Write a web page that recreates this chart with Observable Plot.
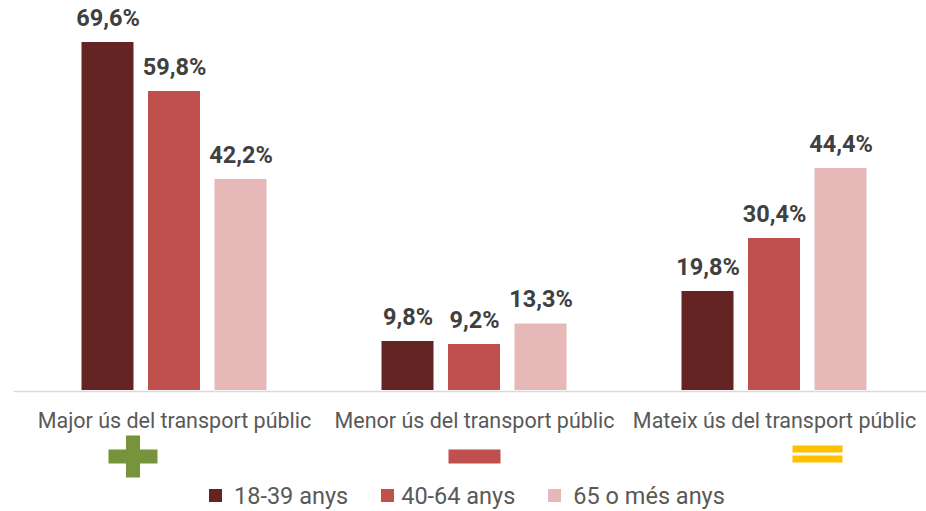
<!DOCTYPE html>
<html>
<head>
<meta charset="utf-8">
<script src="https://cdn.jsdelivr.net/npm/d3@7"></script>
<script src="https://cdn.jsdelivr.net/npm/@observablehq/plot@0.6"></script>
<style>
  html, body { margin: 0; padding: 0; background: #fff; }
  #chart { width: 926px; }
  .legend { display: flex; justify-content: flex-start; align-items: center; height: 31px;
    font-family: Roboto, sans-serif; font-size: 23.5px; color: #595959; padding-left: 209px; box-sizing: border-box; width: 926px; }
  .legend .item { display: flex; align-items: center; margin-right: 33px; }
  .legend .sw { width: 13px; height: 13px; margin-right: 12px; display: inline-block; }
</style>
</head>
<body>
<div id="chart"></div>
<script>
// ---- data ----
const categories = ["Major ús del transport públic", "Menor ús del transport públic", "Mateix ús del transport públic"];
const seriesNames = ["18-39 anys", "40-64 anys", "65 o més anys"];
const values18_39 = [69.6, 9.8, 19.8];
const values40_64 = [59.8, 9.2, 30.4];
const values65 = [42.2, 13.3, 44.4];
const seriesColors = ["#632423", "#c0504d", "#e6b9b8"];
const iconNames = ["plus", "minus", "equals"];
const iconColors = ["#77933c", "#c0504d", "#ffc000"];

const seriesValues = [values18_39, values40_64, values65];
const table = [];
seriesNames.forEach((s, k) => categories.forEach((c, i) => table.push({category: c, series: s, k, value: seriesValues[k][i]})));

const fmt = v => v.toFixed(1).replace(".", ",") + "%";

// custom symbols for the category icons
const symbols = {
  plus: {draw(ctx) {
    const a = 7, w = 24.5, h = 21;
    ctx.moveTo(-a, -h); ctx.lineTo(a, -h); ctx.lineTo(a, -a); ctx.lineTo(w, -a); ctx.lineTo(w, a);
    ctx.lineTo(a, a); ctx.lineTo(a, h); ctx.lineTo(-a, h); ctx.lineTo(-a, a); ctx.lineTo(-w, a);
    ctx.lineTo(-w, -a); ctx.lineTo(-a, -a); ctx.closePath();
  }},
  minus: {draw(ctx) { ctx.rect(-26, -7, 52, 14); }},
  equals: {draw(ctx) { ctx.rect(-25, -8.5, 50, 7); ctx.rect(-25, 1.5, 50, 7); }}
};
const iconDx = [-41.5, 0, 43];
const iconDy = [66, 66, 63.5];

const step = 66.5, half = 150, bw = 26;
const marks = [];
seriesNames.forEach((s, k) => {
  const off = (k - 1) * step;
  const d = table.filter(r => r.k === k);
  marks.push(Plot.barY(d, {x: "category", y: "value", fill: seriesColors[k],
    insetLeft: half - bw + off, insetRight: half - bw - off}));
  marks.push(Plot.text(d, {x: "category", y: "value", text: r => fmt(r.value), dx: off, dy: -17,
    lineAnchor: "bottom", fontSize: 23.5, fontWeight: "bold", fill: "#404040"}));
});
marks.push(Plot.ruleY([0], {stroke: "#d9d9d9", strokeWidth: 1.5, dy: 1}));
marks.push(Plot.text(categories, {x: d => d, text: d => d, frameAnchor: "bottom", dy: 37,
  lineAnchor: "bottom", fontSize: 21.5, fill: "#595959"}));
iconNames.forEach((name, i) => {
  marks.push(Plot.dot([categories[i]], {x: d => d, frameAnchor: "bottom", dx: iconDx[i], dy: iconDy[i],
    symbol: symbols[name], fill: iconColors[i], stroke: "none"}));
});

const plot = Plot.plot({
  width: 926,
  height: 480,
  marginTop: 0,
  marginBottom: 90,
  marginLeft: 14,
  marginRight: 0,
  style: {fontFamily: "Roboto, sans-serif", background: "#fff", overflow: "visible"},
  x: {domain: categories, paddingInner: 0, paddingOuter: 0.02, align: 0.833, axis: null},
  y: {domain: [0, 78], axis: null},
  marks
});
document.getElementById("chart").appendChild(plot);

// legend
const leg = document.createElement("div");
leg.className = "legend";
seriesNames.forEach((s, k) => {
  const it = document.createElement("div");
  it.className = "item";
  const sw = document.createElement("span");
  sw.className = "sw";
  sw.style.background = seriesColors[k];
  if (k === 1) sw.style.marginRight = "7px";
  const t = document.createElement("span");
  t.textContent = s;
  it.appendChild(sw); it.appendChild(t);
  leg.appendChild(it);
});
document.getElementById("chart").appendChild(leg);
</script>
</body>
</html>
